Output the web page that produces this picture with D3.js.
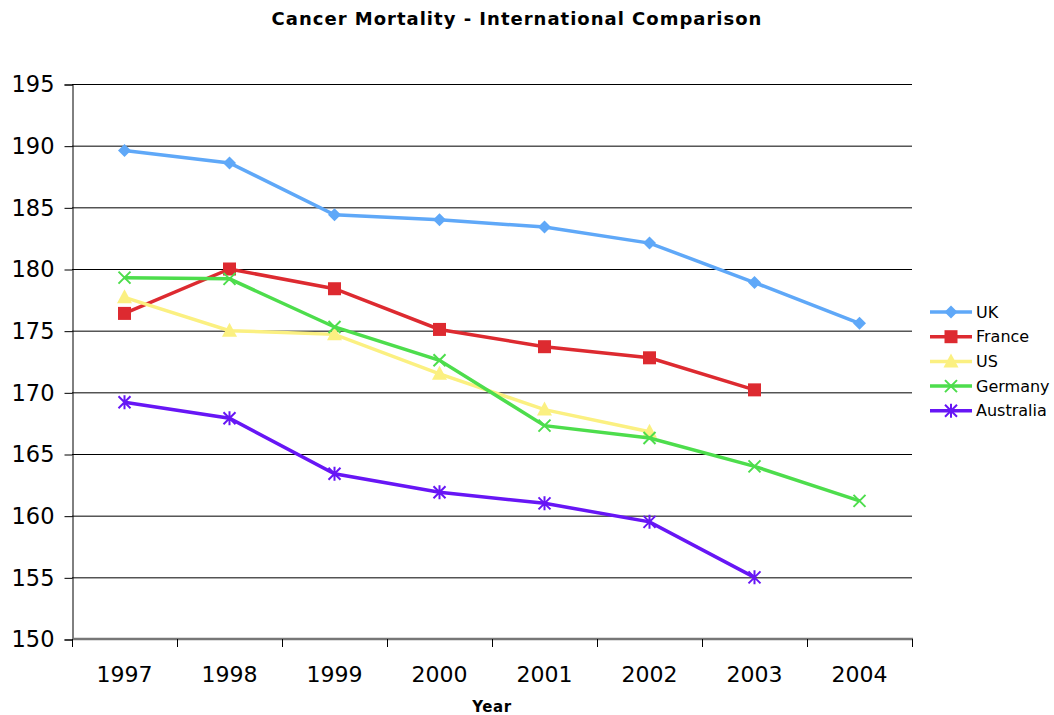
<!DOCTYPE html>
<html>
<head>
<meta charset="UTF-8">
<script src="https://d3js.org/d3.v7.min.js"></script>
<style>
  body { margin: 0; background: #fff; }
  svg { display: block; font-family: "DejaVu Sans", Verdana, sans-serif; }
  .grid line { stroke: #000; stroke-width: 1; }
  .title { font-weight: bold; font-size: 18px; letter-spacing: 1px; }
</style>
</head>
<body>
<svg width="1054" height="715"></svg>
<script>
// data
var years = ["1997", "1998", "1999", "2000", "2001", "2002", "2003", "2004"];
var seriesNames = ["UK", "France", "US", "Germany", "Australia"];
var uk = [189.6, 188.6, 184.4, 184.0, 183.4, 182.1, 178.9, 175.6];
var france = [176.4, 180.0, 178.4, 175.1, 173.7, 172.8, 170.2, null];
var us = [177.7, 175.0, 174.7, 171.5, 168.6, 166.8, null, null];
var germany = [179.3, 179.2, 175.3, 172.6, 167.3, 166.3, 164.0, 161.2];
var australia = [169.2, 167.9, 163.4, 161.9, 161.0, 159.5, 155.0, null];
var yTicks = [150, 155, 160, 165, 170, 175, 180, 185, 190, 195];

var colors = ["#5fa8f8", "#dd2a30", "#fbf081", "#4ddd4c", "#6716f5"];
var markers = ["diamond", "square", "triangle", "cross", "asterisk"];
var values = [uk, france, us, germany, australia];

var svg = d3.select("svg");
var mLeft = 72, mRight = 912, mTop = 84, mBottom = 639;

var x = d3.scaleBand().domain(years).range([mLeft, mRight]);
var y = d3.scaleLinear().domain([150, 195]).range([mBottom, mTop]);

svg.append("text").attr("class", "title")
  .attr("x", 517).attr("y", 25).attr("text-anchor", "middle")
  .text("Cancer Mortality - International Comparison");

// gridlines
svg.append("g").attr("class", "grid")
  .selectAll("line").data(yTicks.filter(function(d) { return d > 150; }))
  .enter().append("line")
  .attr("x1", mLeft).attr("x2", mRight)
  .attr("y1", function(d) { return y(d) + 0.5; })
  .attr("y2", function(d) { return y(d) + 0.5; });

// y axis
var yAxis = svg.append("g")
  .attr("transform", "translate(" + (mLeft + 0.5) + ",0.5)")
  .call(d3.axisLeft(y).tickValues(yTicks).tickSize(8).tickPadding(10).tickFormat(d3.format("d")));
yAxis.select(".domain").attr("stroke", "#000").attr("stroke-width", 1);
yAxis.selectAll(".tick line").attr("stroke", "#000");
yAxis.selectAll("text").attr("font-size", "22.5px").attr("fill", "#000")
  .attr("font-family", "DejaVu Sans, sans-serif");

// x axis
var xg = svg.append("g").attr("transform", "translate(0," + mBottom + ")");
xg.append("line").attr("x1", mLeft).attr("x2", mRight + 1).attr("y1", 0).attr("y2", 0)
  .attr("stroke", "#777").attr("stroke-width", 2.5);
var bounds = years.map(function(d) { return x(d); }).concat([mRight]);
xg.selectAll(".xt").data(bounds).enter().append("line")
  .attr("x1", function(d) { return d + 0.5; }).attr("x2", function(d) { return d + 0.5; })
  .attr("y1", 0).attr("y2", 8).attr("stroke", "#000");
xg.selectAll(".xl").data(years).enter().append("text")
  .attr("x", function(d) { return x(d) + x.bandwidth() / 2; })
  .attr("y", 43).attr("text-anchor", "middle")
  .attr("font-size", "22px").text(function(d) { return d; });

svg.append("text").attr("x", 492).attr("y", 712).attr("text-anchor", "middle")
  .attr("font-weight", "bold").attr("font-size", "15px").attr("letter-spacing", "0.6px").text("Year");

function drawMarker(g, type, color) {
  if (type == "diamond") {
    g.append("path").attr("d", "M0,-6.5L6.5,0L0,6.5L-6.5,0Z").attr("fill", color);
  } else if (type == "square") {
    g.append("rect").attr("x", -6.5).attr("y", -6.5).attr("width", 13).attr("height", 13).attr("fill", color);
  } else if (type == "triangle") {
    g.append("path").attr("d", "M0,-8L7.5,6L-7.5,6Z").attr("fill", color);
  } else if (type == "cross") {
    g.append("path").attr("d", "M-6,-6L6,6M-6,6L6,-6").attr("stroke", color).attr("stroke-width", 2);
  } else {
    g.append("path").attr("d", "M-6,-6L6,6M-6,6L6,-6M0,-7L0,7").attr("stroke", color).attr("stroke-width", 2);
  }
}

var line = d3.line()
  .defined(function(d) { return d.v != null; })
  .x(function(d) { return x(d.year) + x.bandwidth() / 2; })
  .y(function(d) { return y(d.v); });

values.forEach(function(vals, i) {
  var pts = years.map(function(yr, j) { return { year: yr, v: vals[j] }; });
  svg.append("path").datum(pts)
    .attr("d", line).attr("fill", "none")
    .attr("stroke", colors[i]).attr("stroke-width", 3.5);
  pts.filter(function(d) { return d.v != null; }).forEach(function(d) {
    var g = svg.append("g")
      .attr("transform", "translate(" + (x(d.year) + x.bandwidth() / 2) + "," + y(d.v) + ")");
    drawMarker(g, markers[i], colors[i]);
  });
});

// legend
var legend = svg.append("g");
seriesNames.forEach(function(name, i) {
  var ly = 312 + i * 24.7;
  legend.append("line").attr("x1", 930).attr("x2", 972).attr("y1", ly).attr("y2", ly)
    .attr("stroke", colors[i]).attr("stroke-width", 3.5);
  var g = legend.append("g").attr("transform", "translate(951," + ly + ")");
  drawMarker(g, markers[i], colors[i]);
  legend.append("text").attr("x", 976).attr("y", ly + 5.5)
    .attr("font-size", "16px").text(name);
});
</script>
</body>
</html>
